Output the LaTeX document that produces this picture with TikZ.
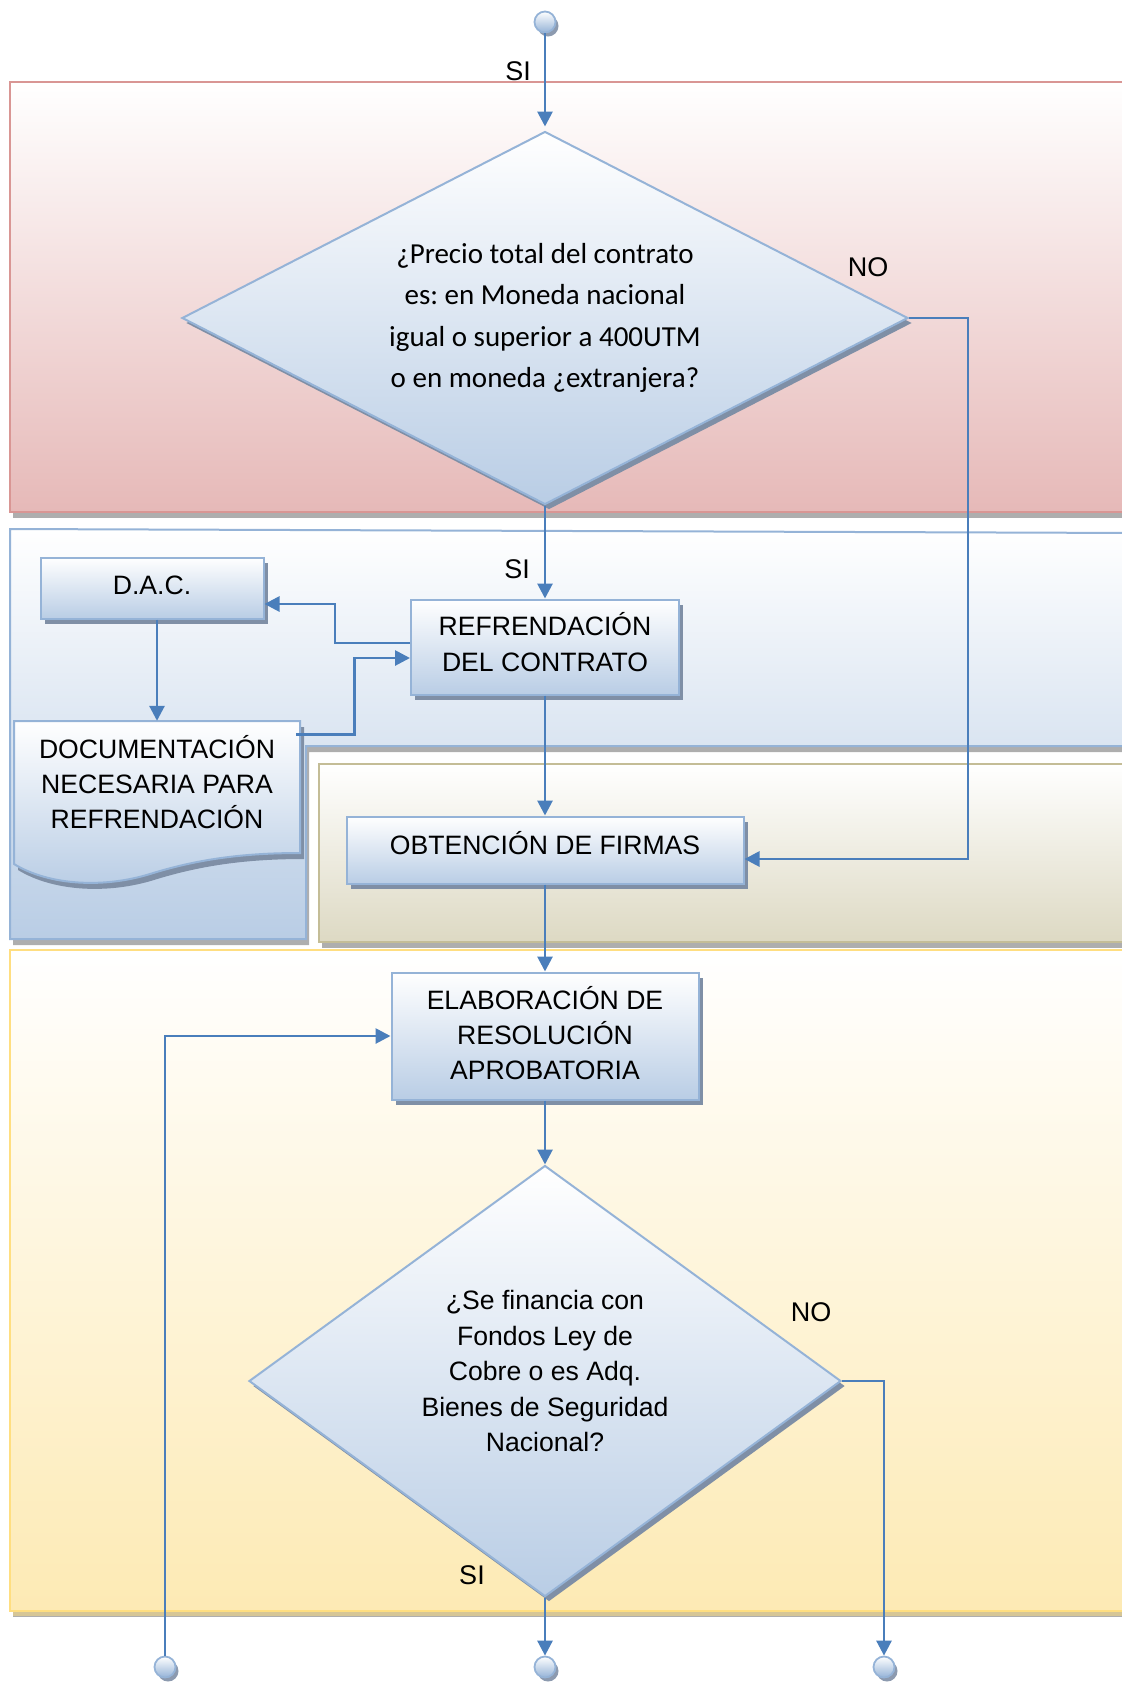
\documentclass[tikz,border=0pt]{standalone}
\usepackage{fontspec}
\setmainfont{Liberation Sans}
\newfontfamily\calibri{Carlito}
\usetikzlibrary{arrows.meta,shapes.geometric,shadows}
\definecolor{flowblue}{HTML}{4A7EBB}
\definecolor{boxline}{HTML}{95B3D7}
\definecolor{boxfill}{HTML}{B9CDE5}
\definecolor{boxshade}{HTML}{7F8FA6}
\definecolor{redline}{HTML}{D99694}
\definecolor{redfill}{HTML}{E6B9B8}
\definecolor{tanline}{HTML}{C4BD97}
\definecolor{tanfill}{HTML}{DDD9C3}
\definecolor{yelline}{HTML}{FFDE80}
\definecolor{yelfill}{HTML}{FDEAB4}
\frenchspacing
\tikzset{
  lane/.style={line width=2pt, drop shadow={shadow xshift=3pt, shadow yshift=-6pt, fill=black!45, opacity=.7}},
  box/.style={draw=boxline, line width=2pt, top color=white, bottom color=boxfill,
    align=center, inner sep=0pt, font=\fontsize{26.6}{35.4}\selectfont,
    drop shadow={shadow xshift=4pt, shadow yshift=-5pt, fill=boxshade, opacity=1}},
  decision/.style={box, diamond},
  endpt/.style={circle, draw=boxline, line width=1.8pt, minimum size=21pt, inner sep=0pt,
    top color=white, bottom color=boxline,
    drop shadow={shadow xshift=3pt, shadow yshift=-4pt, fill=boxshade, opacity=.9}},
  flow/.style={draw=flowblue, line width=2.8pt, -{Triangle[length=15pt,width=15pt]}},
  tag/.style={font=\fontsize{27}{32}\selectfont, inner sep=0pt}
}
\begin{document}
\begin{tikzpicture}[x=1pt,y=-1pt]
  \clip (0,0) rectangle (1122,1682);
  % lanes
  \path[lane, draw=redline, top color=white, bottom color=redfill] (10,82) rectangle (1140,512);
  \path[lane, draw=boxline, top color=white, bottom color=boxfill]
    (10,529) -- (1140,533) -- (1140,746) -- (306,746) -- (306,939) -- (10,939) -- cycle;
  \path[lane, draw=tanline, top color=white, bottom color=tanfill] (319,764) rectangle (1140,942);
  \path[lane, draw=yelline, top color=white, bottom color=yelfill,
    drop shadow={shadow xshift=3pt, shadow yshift=-5pt, fill=yelline, opacity=.5}] (10,950) rectangle (1140,1611);
  % documento
  \path[draw=boxline, line width=2pt, top color=white, bottom color=boxfill,
    drop shadow={shadow xshift=4pt, shadow yshift=-6pt, fill=boxshade, opacity=1}]
    (14,721) -- (300,721) -- (300,853) .. controls (240,853) and (195,860) .. (150,874)
    .. controls (105,888) and (50,886) .. (14,864) -- cycle;
  \node[inner sep=0pt, align=center, minimum width=286pt, minimum height=122pt,
    font=\fontsize{26.6}{35.4}\selectfont] (doc) at (157,782)
    {DOCUMENTACIÓN\\NECESARIA PARA\\REFRENDACIÓN};

  \node[endpt] (start) at (545,22) {};
  \node[decision, minimum width=726pt, minimum height=373pt, aspect=1.95,
    font=\calibri\fontsize{29}{41.3}\selectfont] (precio) at (545,318)
    {¿Precio total del contrato\\es: en Moneda nacional\\igual o superior a 400UTM\\o en moneda ¿extranjera?};
  \node[box, minimum width=223pt, minimum height=61pt, text depth=6pt] (dac) at (152,588) {D.A.C.};
  \node[box, minimum width=268pt, minimum height=95pt, text depth=10pt] (refr) at (545,647) {REFRENDACIÓN\\DEL CONTRATO};
  \node[box, minimum width=397pt, minimum height=67pt, text depth=15pt] (firmas) at (545,850) {OBTENCIÓN DE FIRMAS};
  \node[box, minimum width=307pt, minimum height=127pt, text depth=6pt] (resol) at (545,1036)
    {ELABORACIÓN DE\\RESOLUCIÓN\\APROBATORIA};
  \node[decision, minimum width=592pt, minimum height=431pt, aspect=1.37, text depth=20pt] (fondos) at (545,1381)
    {¿Se financia con\\Fondos Ley de\\Cobre o es Adq.\\Bienes de Seguridad\\Nacional?};
  \node[endpt] (endloop) at (165,1667) {};
  \node[endpt] (endsi) at (545,1667) {};
  \node[endpt] (endno) at (884,1667) {};

  \draw[flow, shorten >=4pt] (start.south) -- (precio.north);
  \draw[flow] (precio.south) -- (refr.north);
  \draw[flow] (precio.east) -- ++(59,0) |- ([yshift=-9pt]firmas.east);
  \draw[flow] ([yshift=4pt]refr.west) -- ++(-75,0) |- ([yshift=-16pt]dac.east);
  \draw[flow] (dac.south -| doc.north) -- (doc.north);
  \draw[flow] ([yshift=-14pt,xshift=-4pt]doc.north east) -- ++(58,0) |- ([yshift=-11pt]refr.west);
  \draw[flow] (refr.south) -- (firmas.north);
  \draw[flow] (firmas.south) -- (resol.north);
  \draw[flow] (resol.south) -- (fondos.north);
  \draw[flow] (endloop.north) |- (resol.west);
  \draw[flow] (fondos.south) -- (endsi.north);
  \draw[flow] (fondos.east) -| (endno.north);

  \node[tag] (siA) at (518,71) {SI};
  \node[tag] (noA) at (868,267) {NO};
  \node[tag] (siB) at (517,569) {SI};
  \node[tag] (noB) at (811,1312) {NO};
  \node[tag] (siC) at (472,1575) {SI};
\end{tikzpicture}
\end{document}
